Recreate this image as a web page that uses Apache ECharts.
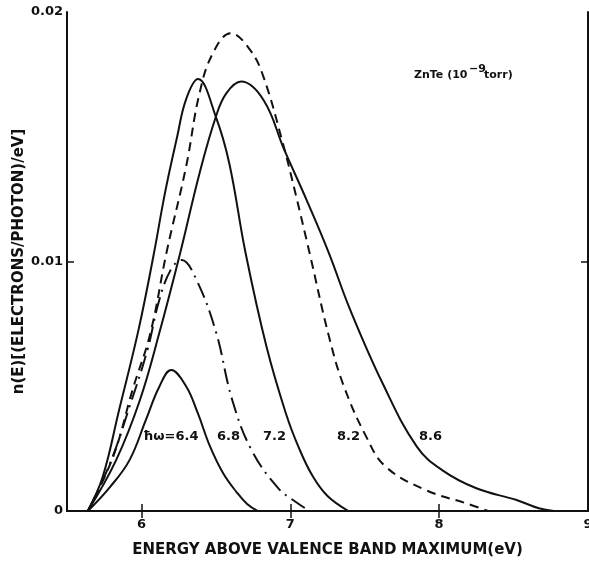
<!DOCTYPE html>
<html>
<head>
<meta charset="utf-8">
<script src="https://cdn.jsdelivr.net/npm/echarts@6/dist/echarts.min.js"></script>
<style>
  html, body { margin: 0; padding: 0; background: #fff; }
  #chart { width: 589px; height: 561px; }
</style>
</head>
<body>
<div id="chart"></div>
<script>
// energy (eV) and n(E) in units of 1e-3 electrons/photon/eV
var curve64 = [[5.64,0],[5.79,0.97],[5.92,2.04],[6.03,3.65],[6.12,4.98],[6.20,5.65],[6.30,5.0],[6.38,3.9],[6.46,2.6],[6.55,1.5],[6.64,0.75],[6.71,0.28],[6.78,0]];
var curve68 = [[5.64,0],[5.79,1.92],[5.92,4.18],[6.04,6.45],[6.12,8.46],[6.20,9.7],[6.27,10.06],[6.37,9.26],[6.50,7.19],[6.61,4.45],[6.74,2.44],[6.92,0.91],[7.04,0.35],[7.13,0]];
var curve72 = [[5.64,0],[5.74,1.37],[5.85,4.05],[5.98,7.25],[6.08,10.2],[6.16,12.8],[6.24,15.0],[6.30,16.5],[6.38,17.31],[6.50,15.8],[6.59,13.94],[6.70,10.33],[6.84,6.59],[6.97,3.92],[7.06,2.5],[7.15,1.4],[7.25,0.6],[7.39,0]];
var curve82 = [[5.64,0],[5.81,2.18],[5.94,4.85],[6.06,7.13],[6.17,10.4],[6.30,13.8],[6.39,16.74],[6.48,18.35],[6.60,19.15],[6.73,18.48],[6.82,17.4],[6.95,14.74],[7.04,12.6],[7.13,10.33],[7.26,6.99],[7.36,5.0],[7.51,2.98],[7.64,1.78],[7.91,0.84],[8.18,0.31],[8.33,0]];
var curve86 = [[5.64,0],[5.83,2.04],[5.99,4.45],[6.12,7.13],[6.26,10.33],[6.39,13.53],[6.50,15.8],[6.57,16.74],[6.67,17.21],[6.82,16.47],[6.96,14.47],[7.11,12.46],[7.26,10.33],[7.40,8.1],[7.62,5.12],[7.85,2.58],[8.02,1.64],[8.25,0.91],[8.52,0.44],[8.67,0.11],[8.77,0]];

var xTicks = [6, 7, 8, 9];
var yTicks = [0, 0.01, 0.02];
var curveLabels = ['ħω=6.4', '6.8', '7.2', '8.2', '8.6'];

var FONT = '"DejaVu Sans", "Liberation Sans", sans-serif';

function scale(arr) {
  return arr.map(function (p) { return [p[0], p[1] / 1000]; });
}

function curve(name, data, type) {
  return {
    name: name,
    type: 'line',
    data: scale(data),
    smooth: 0.4,
    showSymbol: false,
    silent: true,
    lineStyle: { color: '#111', width: 2, type: type }
  };
}

var chart = echarts.init(document.getElementById('chart'));

var frameAxis = {
  axisLine: { show: true, lineStyle: { color: '#111', width: 2 } },
  splitLine: { show: false }
};

chart.setOption({
  animation: false,
  backgroundColor: '#fff',
  grid: { left: 67, right: 1, top: 12, bottom: 50, outerBoundsMode: 'none' },
  xAxis: [
    Object.assign({
      type: 'value', min: 5.5, max: 9, position: 'bottom',
      name: 'ENERGY ABOVE VALENCE BAND MAXIMUM(eV)',
      nameLocation: 'middle', nameGap: 32, nameMoveOverlap: false,
      nameTextStyle: { color: '#111', fontFamily: FONT, fontSize: 15, fontWeight: 'bold' },
      axisTick: { show: true, inside: true, length: 7, customValues: [6, 7, 8], lineStyle: { color: '#111', width: 1.5 } },
      axisLabel: { customValues: xTicks, color: '#111', fontFamily: FONT, fontSize: 13, fontWeight: 'bold', margin: 7 }
    }, frameAxis),
    Object.assign({
      type: 'value', min: 5.5, max: 9, position: 'top',
      axisTick: { show: true, inside: true, length: 7, customValues: [6, 7, 8], lineStyle: { color: '#111', width: 1.5 } },
      axisLabel: { show: false }
    }, frameAxis)
  ],
  yAxis: [
    Object.assign({
      type: 'value', min: 0, max: 0.02, position: 'left',
      name: 'n(E)[(ELECTRONS/PHOTON)/eV]',
      nameLocation: 'middle', nameGap: 40, nameMoveOverlap: false,
      nameTextStyle: { color: '#111', fontFamily: FONT, fontSize: 15, fontWeight: 'bold' },
      axisTick: { show: true, inside: true, length: 7, customValues: [0.01], lineStyle: { color: '#111', width: 1.5 } },
      axisLabel: {
        customValues: yTicks, color: '#111', fontFamily: FONT, fontSize: 13, fontWeight: 'bold', margin: 4,
        formatter: function (v) { return v === 0 ? '0' : v.toFixed(2); }
      }
    }, frameAxis),
    Object.assign({
      type: 'value', min: 0, max: 0.02, position: 'right',
      axisTick: { show: true, inside: true, length: 7, customValues: [0.01], lineStyle: { color: '#111', width: 1.5 } },
      axisLabel: { show: false }
    }, frameAxis)
  ],
  series: [
    curve('6.4', curve64, 'solid'),
    curve('6.8', curve68, [16, 6, 2, 6]),
    curve('7.2', curve72, 'solid'),
    curve('8.2', curve82, [9, 6]),
    curve('8.6', curve86, 'solid')
  ],
  graphic: [
    { type: 'text', left: 414, top: 70, style: { text: 'ZnTe (10', fill: '#111', font: 'bold 11px ' + FONT } },
    { type: 'text', left: 469, top: 64, style: { text: '−9', fill: '#111', font: 'bold 11px ' + FONT } },
    { type: 'text', left: 484, top: 70, style: { text: 'torr)', fill: '#111', font: 'bold 11px ' + FONT } },
    { type: 'text', left: 143, top: 430, style: { text: curveLabels[0], fill: '#111', font: 'bold 13px ' + FONT } },
    { type: 'text', left: 217, top: 430, style: { text: curveLabels[1], fill: '#111', font: 'bold 13px ' + FONT } },
    { type: 'text', left: 263, top: 430, style: { text: curveLabels[2], fill: '#111', font: 'bold 13px ' + FONT } },
    { type: 'text', left: 337, top: 430, style: { text: curveLabels[3], fill: '#111', font: 'bold 13px ' + FONT } },
    { type: 'text', left: 419, top: 430, style: { text: curveLabels[4], fill: '#111', font: 'bold 13px ' + FONT } }
  ]
});
</script>
</body>
</html>
